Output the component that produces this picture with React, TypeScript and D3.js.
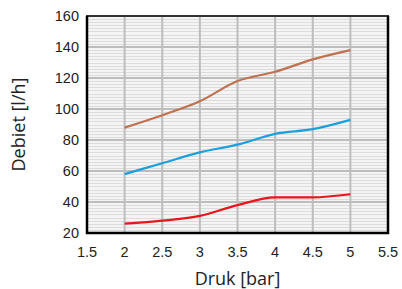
import React, { useEffect, useRef } from 'react'
import * as d3 from 'd3'

const pressures = [2, 2.5, 3, 3.5, 4, 4.5, 5]
const flowHigh = [88, 96, 105, 118, 124, 132, 138]
const flowMid = [58, 65, 72, 77, 84, 87, 93]
const flowLow = [26, 28, 31, 38, 43, 43, 45]
const xTicks = [1.5, 2, 2.5, 3, 3.5, 4, 4.5, 5, 5.5]
const yTicks = [20, 40, 60, 80, 100, 120, 140, 160]

const seriesList = [
  { name: 'high', values: flowHigh, color: '#c0714f' },
  { name: 'mid', values: flowMid, color: '#1ca0dc' },
  { name: 'low', values: flowLow, color: '#e8161c' },
]

const W = 402
const H = 289

export default function App() {
  const ref = useRef<SVGSVGElement>(null)

  useEffect(() => {
    const margin = { top: 16, right: 14, bottom: 56, left: 87 }
    const svg = d3.select(ref.current)
    svg.selectAll('*').remove()

    const x = d3.scaleLinear().domain([1.5, 5.5]).range([margin.left, W - margin.right])
    const y = d3.scaleLinear().domain([20, 160]).range([H - margin.bottom, margin.top])

    const plot = svg.append('g')

    // background + minor stripes
    plot
      .append('rect')
      .attr('x', x(1.5))
      .attr('y', y(160))
      .attr('width', x(5.5) - x(1.5))
      .attr('height', y(20) - y(160))
      .attr('fill', '#f4f4f4')

    plot
      .append('g')
      .selectAll('line')
      .data(d3.range(22, 160, 2))
      .join('line')
      .attr('x1', x(1.5))
      .attr('x2', x(5.5))
      .attr('y1', d => Math.round(y(d)) + 0.5)
      .attr('y2', d => Math.round(y(d)) + 0.5)
      .attr('stroke', '#dcdcdc')
      .attr('stroke-width', 1)

    // major grid
    plot
      .append('g')
      .selectAll('line')
      .data(yTicks)
      .join('line')
      .attr('x1', x(1.5))
      .attr('x2', x(5.5))
      .attr('y1', d => y(d))
      .attr('y2', d => y(d))
      .attr('stroke', '#bdbdbd')
      .attr('stroke-width', 2)

    plot
      .append('g')
      .selectAll('line')
      .data(xTicks)
      .join('line')
      .attr('x1', d => x(d))
      .attr('x2', d => x(d))
      .attr('y1', y(20))
      .attr('y2', y(160))
      .attr('stroke', '#bdbdbd')
      .attr('stroke-width', 2)

    // border
    plot
      .append('rect')
      .attr('x', x(1.5))
      .attr('y', y(160))
      .attr('width', x(5.5) - x(1.5))
      .attr('height', y(20) - y(160))
      .attr('fill', 'none')
      .attr('stroke', '#333')
      .attr('stroke-width', 2)

    plot
      .append('path')
      .attr('d', `M${x(1.5)},${y(160)}V${y(20)}H${x(5.5)}V${y(160)}`)
      .attr('fill', 'none')
      .attr('stroke', '#000')
      .attr('stroke-width', 2.5)

    const line = d3
      .line<number>()
      .x((d, i) => x(pressures[i]))
      .y(d => y(d))
      .curve(d3.curveMonotoneX)

    plot
      .append('g')
      .selectAll('path')
      .data(seriesList)
      .join('path')
      .attr('d', d => line(d.values))
      .attr('fill', 'none')
      .attr('stroke', d => d.color)
      .attr('stroke-width', 2.2)

    // tick labels
    svg
      .append('g')
      .selectAll('text')
      .data(yTicks)
      .join('text')
      .attr('x', x(1.5) - 8)
      .attr('y', d => y(d))
      .attr('dy', '0.36em')
      .attr('text-anchor', 'end')
      .style('font', '14.5px "Liberation Sans", Arial, sans-serif')
      .attr('fill', '#222')
      .text(d => d)

    svg
      .append('g')
      .selectAll('text')
      .data(xTicks)
      .join('text')
      .attr('x', d => x(d))
      .attr('y', y(20) + 24)
      .attr('text-anchor', 'middle')
      .style('font', '14.5px "Liberation Sans", Arial, sans-serif')
      .attr('fill', '#222')
      .text(d => d)

    svg
      .append('text')
      .attr('x', (x(1.5) + x(5.5)) / 2)
      .attr('y', 285)
      .attr('text-anchor', 'middle')
      .style('font', '18px "Open Sans", sans-serif')
      .attr('fill', '#222')
      .text('Druk [bar]')

    svg
      .append('text')
      .attr('transform', `translate(25,${(y(20) + y(160)) / 2}) rotate(-90)`)
      .attr('text-anchor', 'middle')
      .style('font', '18px "Open Sans", sans-serif')
      .attr('fill', '#222')
      .text('Debiet [l/h]')
  }, [])

  return (
    <svg
      ref={ref}
      width={W}
      height={H}
      style={{ position: 'absolute', left: 0, top: 0, background: '#fff' }}
    />
  )
}
